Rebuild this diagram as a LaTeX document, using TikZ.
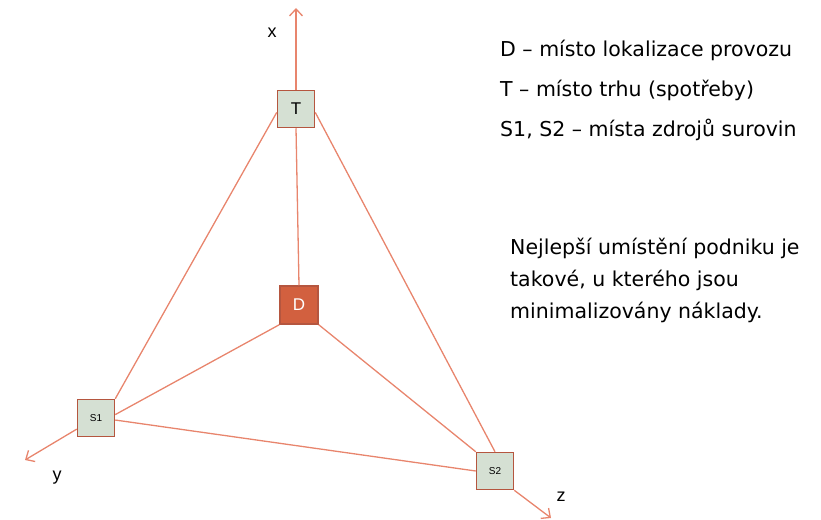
\documentclass[tikz,border=0pt]{standalone}
\usepackage{fontspec}
\setmainfont{Liberation Sans}
\newfontfamily\legfont{DejaVu Sans}
\usetikzlibrary{arrows.meta}
\definecolor{lin}{HTML}{E8856D}
\definecolor{bord}{HTML}{B5563F}
\definecolor{boxfill}{HTML}{D5E0D3}
\definecolor{dfill}{HTML}{D2603F}
\begin{document}
\begin{tikzpicture}[x=1pt,y=-1pt,
  conn/.style={draw=lin,line width=1.3pt},
  axisline/.style={draw=lin,line width=1.3pt,-{Straight Barb[length=7pt,width=13pt,line width=1.3pt]}},
  sbox/.style={draw=bord,line width=1.5pt,fill=boxfill,minimum size=37pt,inner sep=0pt,text=black},
  dbox/.style={draw=bord,line width=1.5pt,fill=dfill,minimum size=38pt,inner sep=0pt,text=white},
  axlabel/.style={font=\fontsize{18}{18}\selectfont,inner sep=0pt},
  legend/.style={anchor=west,inner sep=0pt,font=\legfont\fontsize{20.5}{24}\selectfont}]
\useasboundingbox (0,0) rectangle (821,519);
\node[sbox,font=\fontsize{17}{17}\selectfont] (T) at (296,109) {T};
\node[dbox,font=\fontsize{17}{17}\selectfont] (D) at (299,305) {D};
\node[sbox,font=\fontsize{10}{10}\selectfont] (S1) at (96,418) {S1};
\node[sbox,font=\fontsize{10}{10}\selectfont] (S2) at (495,471) {S2};
\coordinate (xe) at (296,8);
\coordinate (ye) at (25,460);
\coordinate (ze) at (551,518);
\draw[conn] (T.south) -- (D.north);
\draw[conn] (T.190) -- (S1.north east);
\draw[conn] (T.350) -- (S2.north);
\draw[conn] (D.south west) -- (S1.10);
\draw[conn] (D.south east) -- (S2.north west);
\draw[conn] (S1.354) -- (S2.west);
\draw[axisline] (T.north) -- (xe);
\draw[axisline] (S1.210) -- (ye);
\draw[axisline] (S2.south east) -- (ze);
\node[axlabel] (lx) at (272,33) {x};
\node[axlabel] (ly) at (57,478) {y};
\node[axlabel] (lz) at (561,497) {z};
\node[legend] (l1) at (500,50) {D – místo lokalizace provozu};
\node[legend] (l2) at (500,90) {T – místo trhu (spotřeby)};
\node[legend] (l3) at (500,130) {S1, S2 – místa zdrojů surovin};
\node[legend,align=left,font=\legfont\fontsize{20.5}{32}\selectfont] (note) at (510,280) {Nejlepší umístění podniku je\\takové, u kterého jsou\\minimalizovány náklady.};
\end{tikzpicture}
\end{document}
